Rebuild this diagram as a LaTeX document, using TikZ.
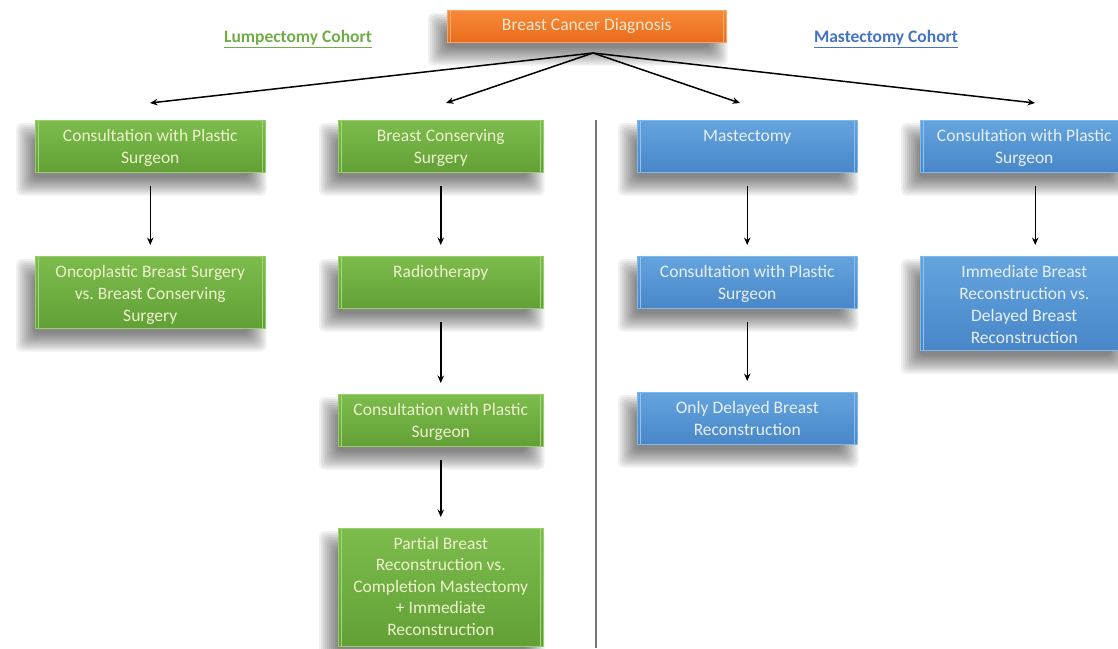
\documentclass[tikz,border=0pt]{standalone}
\usepackage{fontspec}
\setmainfont{Carlito}
\frenchspacing
\usetikzlibrary{arrows.meta}
\pgfdeclarelayer{background}
\pgfsetlayers{background,main}
\definecolor{gtop}{RGB}{124,188,76}
\definecolor{gbot}{RGB}{98,160,54}
\definecolor{gedge}{RGB}{150,206,110}
\definecolor{ghi}{RGB}{165,215,125}
\definecolor{gtext}{RGB}{238,242,205}
\definecolor{btop}{RGB}{100,164,222}
\definecolor{bbot}{RGB}{72,134,200}
\definecolor{bedge}{RGB}{130,185,232}
\definecolor{bhi}{RGB}{145,195,238}
\definecolor{btext}{RGB}{232,240,250}
\definecolor{otop}{RGB}{248,138,56}
\definecolor{obot}{RGB}{232,108,28}
\definecolor{oedge}{RGB}{250,165,100}
\definecolor{ohi}{RGB}{252,175,115}
\definecolor{otext}{RGB}{252,232,208}
\definecolor{lgreen}{RGB}{112,173,71}
\definecolor{lblue}{RGB}{68,114,196}
\definecolor{divgray}{RGB}{120,120,120}
\newcommand\btext[3]{\parbox[c][#2][t]{#1}{\fontsize{17.5}{22}\selectfont\centering\rule{0pt}{21pt}#3\par}}
\newcommand\softshadow[1]{%
  \foreach \k in {-10,-8,...,8}{%
    \fill[black, fill opacity=0.058, rounded corners=5pt]
      ([shift={(-9+\k,13+\k)}]#1.north west) rectangle ([shift={(-9-\k,13-\k)}]#1.south east);
  }}
\tikzset{
  hilite/.style={path picture={
    \draw[#1, line width=1pt] ([xshift=3pt]path picture bounding box.north west) -- ([xshift=3pt]path picture bounding box.south west);
    \draw[#1, line width=1pt] ([xshift=-3pt]path picture bounding box.north east) -- ([xshift=-3pt]path picture bounding box.south east);}},
  gbox/.style={rectangle, inner sep=0pt, anchor=north west, top color=gtop, bottom color=gbot, draw=gedge, line width=0.5pt, text=gtext, hilite=ghi},
  bbox/.style={rectangle, inner sep=0pt, anchor=north west, top color=btop, bottom color=bbot, draw=bedge, line width=0.5pt, text=btext, hilite=bhi},
  obox/.style={rectangle, inner sep=0pt, anchor=north west, top color=otop, bottom color=obot, draw=oedge, line width=0.5pt, text=otext, hilite=ohi},
  arr/.style={-{Stealth[length=7.5pt,width=6.5pt]}, line width=1.5pt, black},
  varr/.style={arr, shorten <=13pt, shorten >=11pt},
  cohort/.style={font=\bfseries\fontsize{17.5}{20}\selectfont},
}
\begin{document}
\begin{tikzpicture}[x=1pt,y=-1pt]
\useasboundingbox (0,0) rectangle (1118,648);

% top
\node[obox] (diag) at (447,10) {\parbox[c][32pt][c]{279pt}{\fontsize{17.5}{20}\selectfont\centering Breast Cancer Diagnosis\par}};
\node[cohort, text=lgreen] (lcoh) at (298,39) {\underline{Lumpectomy Cohort}};
\node[cohort, text=lblue] (mcoh) at (886,39) {\underline{Mastectomy Cohort}};

% divider
\coordinate (dtop) at (596,120);
\coordinate (dbot) at (596,648);
\draw[divgray, line width=1.6pt] (dtop) -- (dbot);

% column 1
\node[gbox] (c1a) at (35,120) {\btext{230pt}{52pt}{Consultation with Plastic\\Surgeon}};
\node[gbox] (c1b) at (35,256) {\btext{230pt}{72pt}{Oncoplastic Breast Surgery\\vs. Breast Conserving\\Surgery}};

% column 2
\node[gbox] (c2a) at (338,120) {\btext{205pt}{52pt}{Breast Conserving\\Surgery}};
\node[gbox] (c2b) at (338,256) {\btext{205pt}{52pt}{Radiotherapy}};
\node[gbox] (c2c) at (338,394) {\btext{205pt}{52pt}{Consultation with Plastic\\Surgeon}};
\node[gbox] (c2d) at (338,528) {\parbox[c][118pt][t]{205pt}{\fontsize{17.5}{21.5}\selectfont\centering\rule{0pt}{21pt}Partial Breast\\Reconstruction vs.\\Completion Mastectomy\\+ Immediate\\Reconstruction\par}};

% column 3
\node[bbox] (c3a) at (637,120) {\btext{220pt}{52pt}{Mastectomy}};
\node[bbox] (c3b) at (637,256) {\btext{220pt}{52pt}{Consultation with Plastic\\Surgeon}};
\node[bbox] (c3c) at (637,392) {\btext{220pt}{52pt}{Only Delayed Breast\\Reconstruction}};

% column 4
\node[bbox] (c4a) at (920,120) {\btext{208pt}{52pt}{Consultation with Plastic\\Surgeon}};
\node[bbox] (c4b) at (920,256) {\btext{208pt}{94pt}{Immediate Breast\\Reconstruction vs.\\Delayed Breast\\Reconstruction}};

% soft shadows behind the boxes
\begin{pgfonlayer}{background}
  \fill[white] (0,0) rectangle (1118,648);
  \foreach \n in {diag,c1a,c1b,c2a,c2b,c2c,c2d,c3a,c3b,c3c,c4a,c4b}{\softshadow{\n}}
\end{pgfonlayer}

% top fan-out arrows
\coordinate (hub) at (593,53);
\coordinate (t1) at (150,103);
\coordinate (t2) at (446,103);
\coordinate (t3) at (740,103);
\coordinate (t4) at (1035,103);
\draw[arr] (hub) -- (t1);
\draw[arr] (hub) -- (t2);
\draw[arr] (hub) -- (t3);
\draw[arr] (hub) -- (t4);

% vertical arrows
\draw[varr] (c1a.south) -- (c1b.north);
\draw[varr] (c2a.south) -- (c2b.north);
\draw[varr] (c2b.south) -- (c2c.north);
\draw[varr] (c2c.south) -- (c2d.north);
\draw[varr] (c3a.south) -- (c3b.north);
\draw[varr] (c3b.south) -- (c3c.north);
\draw[varr] ([xshift=11pt]c4a.south) -- ([xshift=11pt]c4b.north);
\end{tikzpicture}
\end{document}
